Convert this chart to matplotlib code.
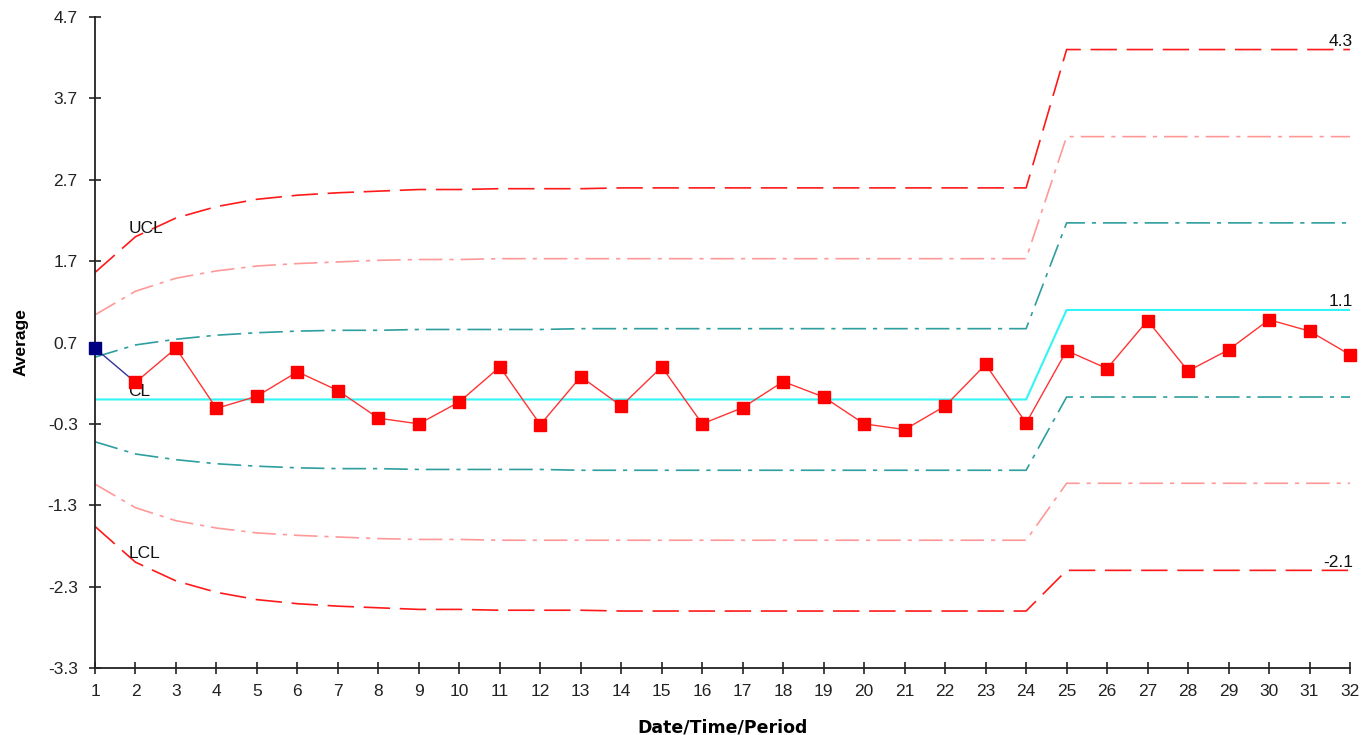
import matplotlib
matplotlib.use("Agg")
import matplotlib.pyplot as plt

plt.rcParams['font.family'] = ['Liberation Sans', 'DejaVu Sans']
plt.rcParams['lines.scale_dashes'] = False

periods = list(range(1, 33))
averages = [0.63, 0.21, 0.63, -0.11, 0.04, 0.34, 0.11, -0.23, -0.30, -0.03,
            0.40, -0.31, 0.28, -0.08, 0.40, -0.30, -0.10, 0.22, 0.03, -0.30,
            -0.37, -0.08, 0.43, -0.29, 0.60, 0.38, 0.97, 0.35, 0.61, 0.98,
            0.84, 0.55]

cl = [0.0] * 24 + [1.1] * 8
ucl = [1.56, 2.00, 2.23, 2.37, 2.46, 2.51, 2.54, 2.56, 2.58, 2.58, 2.59, 2.59,
       2.59, 2.60, 2.60, 2.60, 2.60, 2.60, 2.60, 2.60, 2.60, 2.60, 2.60, 2.60] + [4.3] * 8
u2 = [1.04, 1.33, 1.49, 1.58, 1.64, 1.67, 1.69, 1.71, 1.72, 1.72, 1.73, 1.73,
      1.73, 1.73, 1.73, 1.73, 1.73, 1.73, 1.73, 1.73, 1.73, 1.73, 1.73, 1.73] + [3.23] * 8
u1 = [0.52, 0.67, 0.74, 0.79, 0.82, 0.84, 0.85, 0.85, 0.86, 0.86, 0.86, 0.86,
      0.87, 0.87, 0.87, 0.87, 0.87, 0.87, 0.87, 0.87, 0.87, 0.87, 0.87, 0.87] + [2.17] * 8
l1 = [-0.52, -0.67, -0.74, -0.79, -0.82, -0.84, -0.85, -0.85, -0.86, -0.86, -0.86, -0.86,
      -0.87, -0.87, -0.87, -0.87, -0.87, -0.87, -0.87, -0.87, -0.87, -0.87, -0.87, -0.87] + [0.03] * 8
l2 = [-1.04, -1.33, -1.49, -1.58, -1.64, -1.67, -1.69, -1.71, -1.72, -1.72, -1.73, -1.73,
      -1.73, -1.73, -1.73, -1.73, -1.73, -1.73, -1.73, -1.73, -1.73, -1.73, -1.73, -1.73] + [-1.03] * 8
lcl = [-1.56, -2.00, -2.23, -2.37, -2.46, -2.51, -2.54, -2.56, -2.58, -2.58, -2.59, -2.59,
       -2.59, -2.60, -2.60, -2.60, -2.60, -2.60, -2.60, -2.60, -2.60, -2.60, -2.60, -2.60] + [-2.1] * 8

yticks = [4.7, 3.7, 2.7, 1.7, 0.7, -0.3, -1.3, -2.3, -3.3]

fig = plt.figure(figsize=(13.61, 7.35), dpi=100)
ax = fig.add_axes([95 / 1361, 1 - 668 / 735, (1350 - 95) / 1361, (668 - 17) / 735])

red = '#FF1A1A'
pink = '#FF9999'
teal = '#2E9E9E'
lw = 1.2

ax.plot(periods, ucl, color=red, lw=lw, dashes=(19, 7))
ax.plot(periods, lcl, color=red, lw=lw, dashes=(19, 7))
ax.plot(periods, u2, color=pink, lw=lw, dashes=(17, 5, 3, 5))
ax.plot(periods, l2, color=pink, lw=lw, dashes=(17, 5, 3, 5))
ax.plot(periods, u1, color=teal, lw=lw, dashes=(17, 5, 3, 5))
ax.plot(periods, l1, color=teal, lw=lw, dashes=(17, 5, 3, 5))
ax.plot(periods, cl, color='#33F5F5', lw=1.5)

ax.plot(periods[1:], averages[1:], color='#FF3333', lw=1.0, marker='s',
        markersize=8.5, markerfacecolor='#FF0000', markeredgecolor='#FF0000',
        zorder=5, clip_on=False)
ax.plot(periods[:2], averages[:2], color='#333399', lw=1.0, zorder=4)
ax.plot(periods[:1], averages[:1], color='#000080', lw=0, marker='s',
        markersize=8.5, zorder=6, clip_on=False)

fs = 12.5
ax.text(1.82, ucl[1] + 0.01, 'UCL', fontsize=fs, ha='left', va='bottom', color='#111111')
ax.text(1.82, cl[1] + 0.01, 'CL', fontsize=fs, ha='left', va='bottom', color='#111111')
ax.text(1.82, lcl[1] + 0.01, 'LCL', fontsize=fs, ha='left', va='bottom', color='#111111')
ax.text(32.07, ucl[-1] + 0.01, '4.3', fontsize=fs, ha='right', va='bottom', color='#111111')
ax.text(32.07, cl[-1] + 0.01, '1.1', fontsize=fs, ha='right', va='bottom', color='#111111')
ax.text(32.07, lcl[-1] + 0.01, '-2.1', fontsize=fs, ha='right', va='bottom', color='#111111')

ax.set_xlim(1, 32)
ax.set_ylim(-3.3, 4.7)
ax.set_xticks(periods)
ax.set_xticklabels([str(p) for p in periods])
ax.set_yticks(yticks)
ax.set_yticklabels([f'{v:.1f}' for v in yticks])
for s in ['top', 'right']:
    ax.spines[s].set_visible(False)
for s in ['left', 'bottom']:
    ax.spines[s].set_linewidth(1.3)
    ax.spines[s].set_color('#222222')
ax.tick_params(axis='both', direction='inout', length=9, width=1.2,
               labelsize=fs, colors='#222222')
ax.tick_params(axis='x', pad=7)
ax.tick_params(axis='y', pad=8)
ax.set_xlabel('Date/Time/Period', fontsize=12.5, fontweight='bold', labelpad=14,
              family=['DejaVu Sans'])
ax.set_ylabel('Average', fontsize=12.5, fontweight='bold', labelpad=14)

fig.savefig('out.png', dpi=100)
